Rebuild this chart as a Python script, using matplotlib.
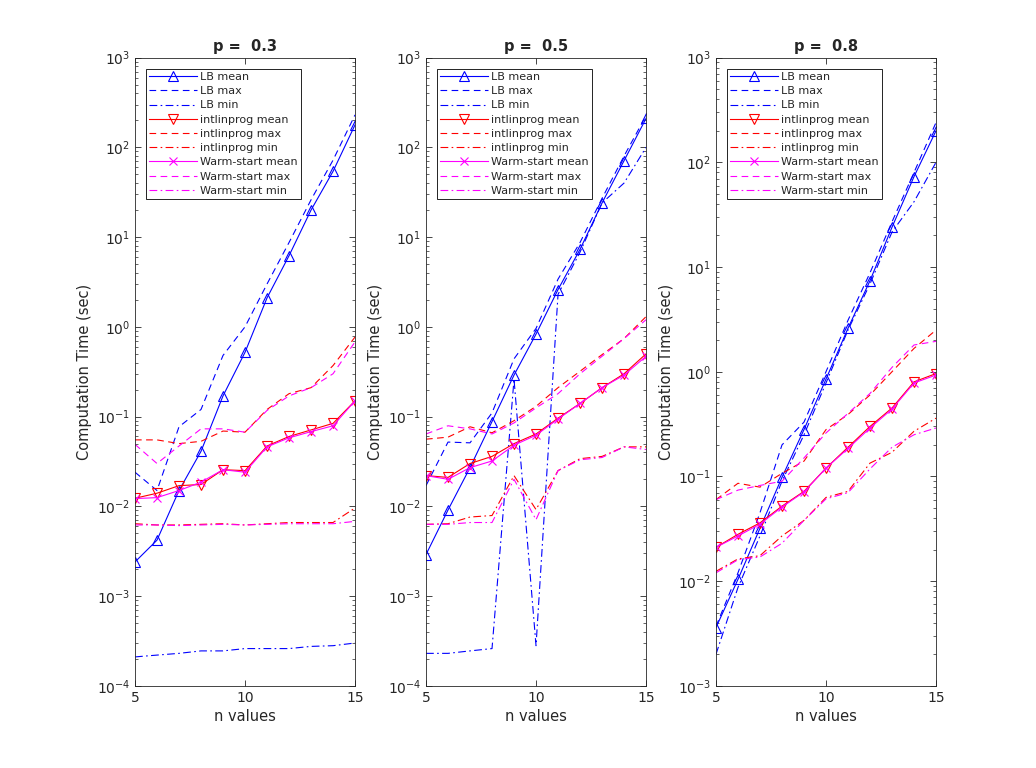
import matplotlib
matplotlib.use("Agg")
import matplotlib.pyplot as plt
from matplotlib.ticker import LogFormatterSciNotation, NullFormatter, FixedLocator

n_values = [5, 6, 7, 8, 9, 10, 11, 12, 13, 14, 15]
p_values = [0.3, 0.5, 0.8]

# ---- p = 0.3 ----
lb_mean_03 = [0.0024, 0.0042, 0.015, 0.041, 0.17, 0.52, 2.1, 6.2, 20, 54, 178]
lb_max_03 = [0.024, 0.015, 0.077, 0.12, 0.48, 1.0, 3.0, 8.7, 26, 72, 230]
lb_min_03 = [2.1e-4, 2.2e-4, 2.3e-4, 2.45e-4, 2.45e-4, 2.6e-4, 2.6e-4, 2.6e-4, 2.75e-4, 2.8e-4, 3.0e-4]
ilp_mean_03 = [0.0123, 0.014, 0.017, 0.0175, 0.0256, 0.025, 0.047, 0.060, 0.071, 0.084, 0.15]
ilp_max_03 = [0.055, 0.055, 0.050, 0.053, 0.069, 0.067, 0.12, 0.18, 0.21, 0.37, 0.77]
ilp_min_03 = [0.0064, 0.0062, 0.0062, 0.0063, 0.0064, 0.0062, 0.0064, 0.0066, 0.0066, 0.0066, 0.0096]
ws_mean_03 = [0.0122, 0.0125, 0.0150, 0.0186, 0.0256, 0.024, 0.046, 0.058, 0.068, 0.079, 0.15]
ws_max_03 = [0.049, 0.030, 0.047, 0.073, 0.073, 0.067, 0.117, 0.17, 0.21, 0.30, 0.68]
ws_min_03 = [0.0062, 0.0062, 0.0061, 0.0062, 0.0063, 0.0062, 0.0063, 0.0064, 0.0064, 0.0064, 0.0068]

# ---- p = 0.5 ----
lb_mean_05 = [0.0029, 0.0091, 0.027, 0.088, 0.29, 0.83, 2.6, 7.3, 24, 71, 210]
lb_max_05 = [0.017, 0.052, 0.051, 0.11, 0.44, 0.96, 3.4, 8.7, 27, 80, 225]
lb_min_05 = [2.3e-4, 2.3e-4, 2.45e-4, 2.6e-4, 0.26, 2.8e-4, 2.3, 6.8, 24, 40, 100]
ilp_mean_05 = [0.022, 0.021, 0.030, 0.036, 0.050, 0.064, 0.096, 0.14, 0.21, 0.30, 0.50]
ilp_max_05 = [0.056, 0.059, 0.077, 0.066, 0.09, 0.13, 0.21, 0.32, 0.49, 0.74, 1.3]
ilp_min_05 = [0.0063, 0.0064, 0.0076, 0.0079, 0.022, 0.0092, 0.025, 0.034, 0.036, 0.046, 0.046]
ws_mean_05 = [0.022, 0.020, 0.027, 0.032, 0.048, 0.062, 0.094, 0.14, 0.21, 0.29, 0.47]
ws_max_05 = [0.064, 0.079, 0.073, 0.064, 0.085, 0.125, 0.18, 0.30, 0.47, 0.74, 1.2]
ws_min_05 = [0.0063, 0.0063, 0.0066, 0.0066, 0.020, 0.0071, 0.025, 0.033, 0.035, 0.046, 0.043]

# ---- p = 0.8 ----
lb_mean_08 = [0.0036, 0.0104, 0.032, 0.098, 0.28, 0.85, 2.6, 7.4, 24, 73, 200]
lb_max_08 = [0.0037, 0.012, 0.045, 0.2, 0.33, 1.0, 3.1, 8.8, 27, 80, 240]
lb_min_08 = [0.0020, 0.0087, 0.027, 0.09, 0.25, 0.78, 2.5, 6.9, 21.6, 42, 100]
ilp_mean_08 = [0.021, 0.028, 0.036, 0.052, 0.072, 0.12, 0.19, 0.30, 0.45, 0.80, 0.96]
ilp_max_08 = [0.060, 0.086, 0.079, 0.107, 0.14, 0.28, 0.39, 0.60, 1.0, 1.67, 2.5]
ilp_min_08 = [0.0124, 0.0163, 0.0175, 0.027, 0.038, 0.063, 0.072, 0.134, 0.17, 0.27, 0.36]
ws_mean_08 = [0.021, 0.027, 0.035, 0.051, 0.071, 0.12, 0.185, 0.29, 0.44, 0.78, 0.93]
ws_max_08 = [0.060, 0.074, 0.082, 0.09, 0.15, 0.26, 0.40, 0.62, 1.1, 1.8, 1.95]
ws_min_08 = [0.012, 0.016, 0.017, 0.023, 0.038, 0.061, 0.07, 0.118, 0.19, 0.25, 0.29]

series = [
    (lb_mean_03, lb_max_03, lb_min_03, ilp_mean_03, ilp_max_03, ilp_min_03, ws_mean_03, ws_max_03, ws_min_03),
    (lb_mean_05, lb_max_05, lb_min_05, ilp_mean_05, ilp_max_05, ilp_min_05, ws_mean_05, ws_max_05, ws_min_05),
    (lb_mean_08, lb_max_08, lb_min_08, ilp_mean_08, ilp_max_08, ilp_min_08, ws_mean_08, ws_max_08, ws_min_08),
]
ylim_exps = [(-4, 3), (-4, 3), (-3, 3)]
x_ticks = [5, 10, 15]
labels = ["LB mean", "LB max", "LB min",
          "intlinprog mean", "intlinprog max", "intlinprog min",
          "Warm-start mean", "Warm-start max", "Warm-start min"]

plt.rcParams['font.family'] = ['DejaVu Sans']
plt.rcParams['text.color'] = '#262626'
plt.rcParams['xtick.color'] = '#262626'
plt.rcParams['ytick.color'] = '#262626'
plt.rcParams['axes.labelcolor'] = '#262626'
fig = plt.figure(figsize=(10.36, 7.68), dpi=100)

lefts = [0.1303, 0.4112, 0.6911]
width = 0.2124
bottom = 0.107
height = 0.818

dash = (0, (6, 4))
dashdot = (0, (7, 3, 1.5, 3))
lw = 0.8
for i, (p, data, (e0, e1)) in enumerate(zip(p_values, series, ylim_exps)):
    ax = fig.add_axes([lefts[i], bottom, width, height])
    colors = ['#0000ff', '#ff0000', '#ff00ff']
    markers = ['^', 'v', 'x']
    for g in range(3):
        c = colors[g]
        mean, mx, mn = data[3 * g], data[3 * g + 1], data[3 * g + 2]
        ax.plot(n_values, mean, color=c, linestyle='-', linewidth=lw, marker=markers[g],
                markersize=7 if g < 2 else 6, markerfacecolor='none', markeredgecolor=c,
                markeredgewidth=0.8, label=labels[3 * g])
        ax.plot(n_values, mx, color=c, linestyle=dash, linewidth=lw, label=labels[3 * g + 1])
        ax.plot(n_values, mn, color=c, linestyle=dashdot, linewidth=lw, label=labels[3 * g + 2])
    ax.set_yscale('log')
    ax.set_xlim(5, 15)
    ax.set_ylim(10.0 ** e0, 10.0 ** e1)
    ax.xaxis.set_major_locator(FixedLocator(x_ticks))
    ax.yaxis.set_major_locator(FixedLocator([10.0 ** k for k in range(e0, e1 + 1)]))
    ax.yaxis.set_major_formatter(LogFormatterSciNotation())
    ax.yaxis.set_minor_locator(FixedLocator([m * 10.0 ** k for k in range(e0, e1) for m in range(2, 10)]))
    ax.yaxis.set_minor_formatter(NullFormatter())
    ax.tick_params(which='both', direction='in', top=True, right=True, labelsize=10)
    ax.tick_params(which='major', length=4, width=0.6)
    ax.tick_params(which='minor', length=2, width=0.5)
    for s in ax.spines.values():
        s.set_linewidth(0.6)
        s.set_color('#262626')
    ax.set_title(f"p =  {p}", fontsize=10.5, fontweight='bold', pad=5)
    ax.set_xlabel("n values", fontsize=10.5, labelpad=3)
    ax.set_ylabel("Computation Time (sec)", fontsize=10.5, labelpad=3)
    leg = ax.legend(loc='upper left', fontsize=8, handlelength=4.3, handletextpad=0.25,
                    labelspacing=0.38, borderpad=0.3, borderaxespad=1.0, fancybox=False,
                    framealpha=1, edgecolor='black')
    leg.get_frame().set_linewidth(0.6)

fig.savefig("out.png", dpi=100)
